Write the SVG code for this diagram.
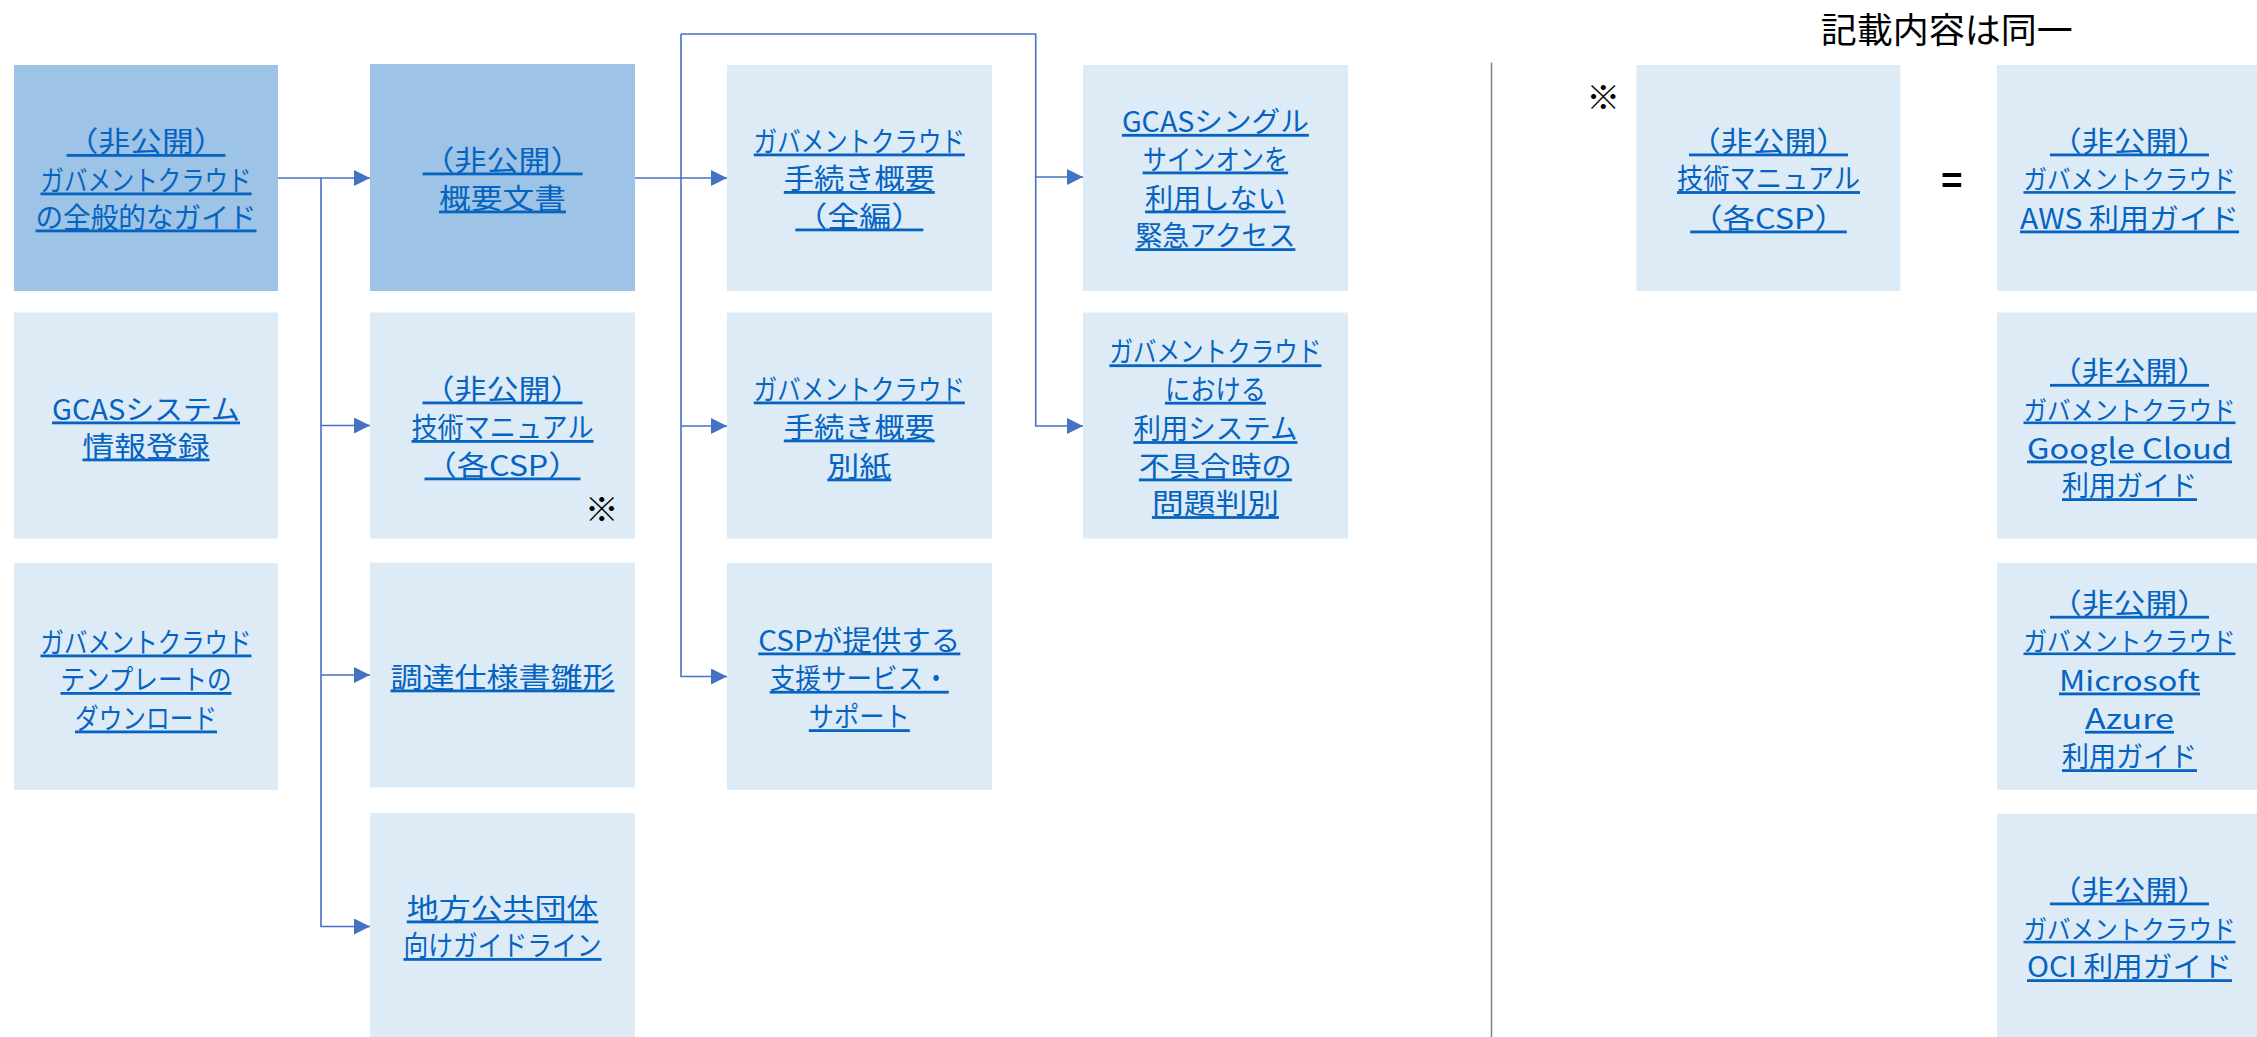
<svg xmlns="http://www.w3.org/2000/svg" width="2257" height="1037" viewBox="0 0 2257 1037">
<defs>
<style>
.dk{fill:#9DC3E6}
.lt{fill:#DDEBF7}
.t{font-family:"Noto Sans CJK JP",sans-serif;font-size:28px;fill:#0563C1;text-anchor:middle;text-decoration:underline}
.s{font-size:26px}
.k{font-family:"Noto Sans CJK JP",sans-serif;fill:#000;text-anchor:middle}
.c{fill:none;stroke:#4472C4;stroke-width:1.6}
</style>
<marker id="ah" markerUnits="userSpaceOnUse" markerWidth="16" markerHeight="16" refX="16" refY="8" orient="auto">
<path d="M0,0 L16,8 L0,16 z" fill="#4472C4"/>
</marker>
</defs>
<rect width="2257" height="1037" fill="#fff"/>

<g id="title"><text class="k" x="1946.7" y="42.5" font-size="35" textLength="252" lengthAdjust="spacingAndGlyphs">記載内容は同一</text></g>
<line id="separator" x1="1491.5" y1="62.5" x2="1491.5" y2="1037" stroke="#808080" stroke-width="1.5"/>

<g id="connectors">
<path class="c" d="M278,178 H370" marker-end="url(#ah)"/>
<path class="c" d="M321,178 V926.5 H370" marker-end="url(#ah)"/>
<path class="c" d="M321,425.5 H370" marker-end="url(#ah)"/>
<path class="c" d="M321,675 H370" marker-end="url(#ah)"/>
<path class="c" d="M635,178 H727" marker-end="url(#ah)"/>
<path class="c" d="M681,34 V676.5 H727" marker-end="url(#ah)"/>
<path class="c" d="M681,426 H727" marker-end="url(#ah)"/>
<path class="c" d="M681,34 H1035.7 V426 H1083" marker-end="url(#ah)"/>
<path class="c" d="M1035.7,177 H1083" marker-end="url(#ah)"/>
</g>

<g id="n-overview-guide">
<rect class="dk" x="14" y="65" width="264" height="226"/>
<text class="t" x="146" y="152" textLength="159" lengthAdjust="spacingAndGlyphs">（非公開）</text>
<text class="t" x="146" y="190.5" textLength="211" lengthAdjust="spacingAndGlyphs">ガバメントクラウド</text>
<text class="t" x="146" y="227.5" textLength="221" lengthAdjust="spacingAndGlyphs">の全般的なガイド</text>
</g>
<g id="n-gcas-system">
<rect class="lt" x="14" y="312.5" width="264" height="226"/>
<text class="t" x="146" y="419.5" textLength="188" lengthAdjust="spacingAndGlyphs">GCASシステム</text>
<text class="t" x="146" y="456.5" textLength="127" lengthAdjust="spacingAndGlyphs">情報登録</text>
</g>
<g id="n-template">
<rect class="lt" x="14" y="563" width="264" height="227"/>
<text class="t" x="146" y="652.5" textLength="211" lengthAdjust="spacingAndGlyphs">ガバメントクラウド</text>
<text class="t" x="146" y="690" textLength="171" lengthAdjust="spacingAndGlyphs">テンプレートの</text>
<text class="t" x="146" y="728.5" textLength="142" lengthAdjust="spacingAndGlyphs">ダウンロード</text>
</g>

<g id="n-summary-doc">
<rect class="dk" x="370" y="64" width="265" height="227"/>
<text class="t" x="502.5" y="170.5" textLength="160" lengthAdjust="spacingAndGlyphs">（非公開）</text>
<text class="t" x="502.5" y="208.5" textLength="127" lengthAdjust="spacingAndGlyphs">概要文書</text>
</g>
<g id="n-tech-manual">
<rect class="lt" x="370" y="312.5" width="265" height="226"/>
<text class="t" x="502.5" y="399.5" textLength="160" lengthAdjust="spacingAndGlyphs">（非公開）</text>
<text class="t" x="502.5" y="438" textLength="182" lengthAdjust="spacingAndGlyphs">技術マニュアル</text>
<text class="t" x="502.5" y="475.5" textLength="156" lengthAdjust="spacingAndGlyphs">（各CSP）</text>
<text class="k" x="601.8" y="522" font-size="34">※</text>
</g>
<g id="n-procurement">
<rect class="lt" x="370" y="562.5" width="265" height="225"/>
<text class="t" x="502.5" y="687.5" textLength="224" lengthAdjust="spacingAndGlyphs">調達仕様書雛形</text>
</g>
<g id="n-local-gov">
<rect class="lt" x="370" y="813" width="265" height="230"/>
<text class="t" x="502.5" y="918.5" textLength="191.5" lengthAdjust="spacingAndGlyphs">地方公共団体</text>
<text class="t" x="502.5" y="956" textLength="198" lengthAdjust="spacingAndGlyphs">向けガイドライン</text>
</g>

<g id="n-procedure-full">
<rect class="lt" x="727" y="65" width="265" height="226"/>
<text class="t" x="859.3" y="151.5" textLength="211" lengthAdjust="spacingAndGlyphs">ガバメントクラウド</text>
<text class="t" x="859.3" y="189" textLength="151" lengthAdjust="spacingAndGlyphs">手続き概要</text>
<text class="t" x="859.3" y="226.5" textLength="128" lengthAdjust="spacingAndGlyphs">（全編）</text>
</g>
<g id="n-procedure-annex">
<rect class="lt" x="727" y="312.5" width="265" height="226"/>
<text class="t" x="859.3" y="399.5" textLength="211" lengthAdjust="spacingAndGlyphs">ガバメントクラウド</text>
<text class="t" x="859.3" y="437.5" textLength="151" lengthAdjust="spacingAndGlyphs">手続き概要</text>
<text class="t" x="859.3" y="476.5" textLength="64" lengthAdjust="spacingAndGlyphs">別紙</text>
</g>
<g id="n-csp-support">
<rect class="lt" x="727" y="563" width="265" height="227"/>
<text class="t" x="859.3" y="650.5" textLength="202" lengthAdjust="spacingAndGlyphs">CSPが提供する</text>
<text class="t" x="859.3" y="688.8" textLength="179" lengthAdjust="spacingAndGlyphs">支援サービス・</text>
<text class="t" x="859.3" y="727.2" textLength="101" lengthAdjust="spacingAndGlyphs">サポート</text>
</g>

<g id="n-emergency-access">
<rect class="lt" x="1083" y="65" width="265" height="226"/>
<text class="t" x="1215.4" y="131.9" textLength="187" lengthAdjust="spacingAndGlyphs">GCASシングル</text>
<text class="t" x="1215.4" y="169.5" textLength="145.5" lengthAdjust="spacingAndGlyphs">サインオンを</text>
<text class="t" x="1215.4" y="208.5" textLength="140.6" lengthAdjust="spacingAndGlyphs">利用しない</text>
<text class="t" x="1215.4" y="246.2" textLength="160" lengthAdjust="spacingAndGlyphs">緊急アクセス</text>
</g>
<g id="n-troubleshoot">
<rect class="lt" x="1083" y="312.5" width="265" height="226"/>
<text class="t" x="1215.4" y="362.3" textLength="212" lengthAdjust="spacingAndGlyphs">ガバメントクラウド</text>
<text class="t" x="1215.4" y="399.8" textLength="101" lengthAdjust="spacingAndGlyphs">における</text>
<text class="t" x="1215.4" y="439.1" textLength="164" lengthAdjust="spacingAndGlyphs">利用システム</text>
<text class="t" x="1215.4" y="476.5" textLength="153" lengthAdjust="spacingAndGlyphs">不具合時の</text>
<text class="t" x="1215.4" y="514.1" textLength="127" lengthAdjust="spacingAndGlyphs">問題判別</text>
</g>

<g id="n-tech-manual-legend">
<text class="k" x="1603.3" y="109.5" font-size="34">※</text>
<rect class="lt" x="1636.5" y="65" width="264" height="226"/>
<text class="t" x="1768.5" y="151.5" textLength="159" lengthAdjust="spacingAndGlyphs">（非公開）</text>
<text class="t" x="1768.5" y="189.1" textLength="183" lengthAdjust="spacingAndGlyphs">技術マニュアル</text>
<text class="t" x="1768.5" y="228.5" textLength="156.5" lengthAdjust="spacingAndGlyphs">（各CSP）</text>
</g>
<g id="equals"><text x="1951.8" y="193" font-family="Liberation Sans,sans-serif" font-size="37" font-weight="bold" text-anchor="middle" fill="#000">=</text></g>

<g id="n-aws">
<rect class="lt" x="1997" y="65" width="265" height="226"/>
<text class="t" x="2129.5" y="151.5" textLength="159" lengthAdjust="spacingAndGlyphs">（非公開）</text>
<text class="t s" x="2129.5" y="189.1" textLength="212" lengthAdjust="spacingAndGlyphs">ガバメントクラウド</text>
<text class="t" x="2129.5" y="228.5" textLength="219" lengthAdjust="spacingAndGlyphs">AWS 利用ガイド</text>
</g>
<g id="n-google">
<rect class="lt" x="1997" y="312.5" width="265" height="226"/>
<text class="t" x="2129.5" y="381.9" textLength="159" lengthAdjust="spacingAndGlyphs">（非公開）</text>
<text class="t s" x="2129.5" y="419.5" textLength="212" lengthAdjust="spacingAndGlyphs">ガバメントクラウド</text>
<text class="t" x="2129.5" y="458.5" textLength="205" lengthAdjust="spacingAndGlyphs">Google Cloud</text>
<text class="t" x="2129.5" y="496.2" textLength="135" lengthAdjust="spacingAndGlyphs">利用ガイド</text>
</g>
<g id="n-azure">
<rect class="lt" x="1997" y="563" width="265" height="227"/>
<text class="t" x="2129.5" y="613.8" textLength="159" lengthAdjust="spacingAndGlyphs">（非公開）</text>
<text class="t s" x="2129.5" y="650.5" textLength="212" lengthAdjust="spacingAndGlyphs">ガバメントクラウド</text>
<text class="t" x="2129.5" y="690.5" textLength="141" lengthAdjust="spacingAndGlyphs">Microsoft</text>
<text class="t" x="2129.5" y="728.8" textLength="89" lengthAdjust="spacingAndGlyphs">Azure</text>
<text class="t" x="2129.5" y="767.2" textLength="135" lengthAdjust="spacingAndGlyphs">利用ガイド</text>
</g>
<g id="n-oci">
<rect class="lt" x="1997" y="814" width="265" height="230"/>
<text class="t" x="2129.5" y="900.5" textLength="159" lengthAdjust="spacingAndGlyphs">（非公開）</text>
<text class="t s" x="2129.5" y="938.8" textLength="212" lengthAdjust="spacingAndGlyphs">ガバメントクラウド</text>
<text class="t" x="2129.5" y="977.2" textLength="205" lengthAdjust="spacingAndGlyphs">OCI 利用ガイド</text>
</g>
</svg>
